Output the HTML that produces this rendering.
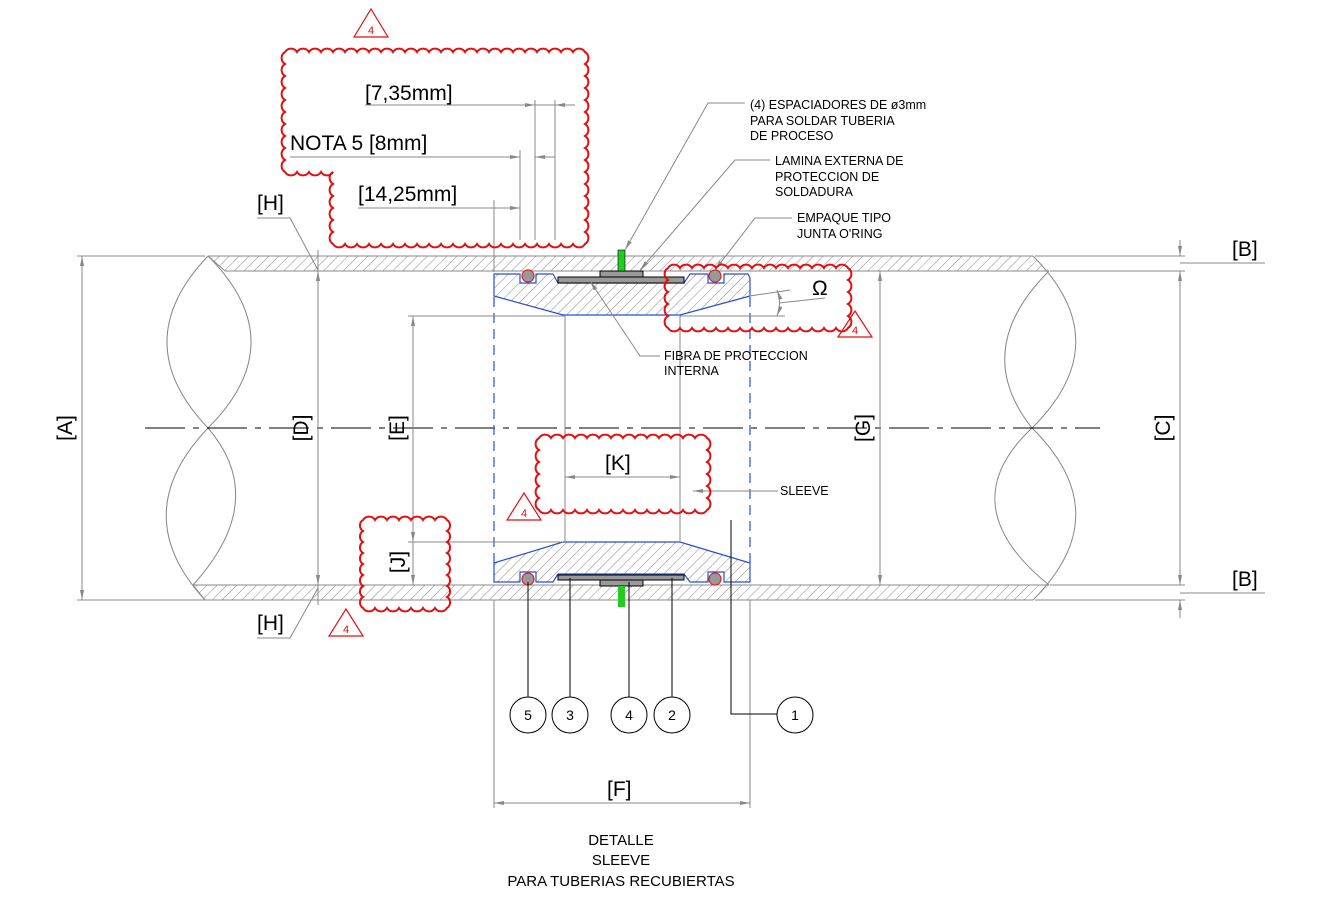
<!DOCTYPE html>
<html><head><meta charset="utf-8"><style>
html,body{margin:0;padding:0;background:#fff}
svg{display:block}
text{font-family:"Liberation Sans",sans-serif;}
</style></head><body>
<svg width="1336" height="923" viewBox="0 0 1336 923" xmlns="http://www.w3.org/2000/svg">
<defs>
<pattern id="h" width="7" height="7" patternUnits="userSpaceOnUse" patternTransform="rotate(45)">
<line x1="0" y1="0" x2="0" y2="7" stroke="#888" stroke-width="1"/>
</pattern>
<marker id="a" viewBox="0 0 10 4" refX="10" refY="2" markerWidth="10" markerHeight="4" orient="auto-start-reverse" markerUnits="userSpaceOnUse"><path d="M0,0L10,2L0,4z" fill="#888"/></marker>
</defs>
<rect width="1336" height="923" fill="#fff"/>

<path d="M208,256 L1033,256 L1049,271 L225,271 Z" fill="url(#h)"/>
<path d="M193,585 L1049,585 L1033,600 L205,600 Z" fill="url(#h)"/>
<g stroke="#888" stroke-width="1" fill="none">
<line x1="208" y1="256" x2="1033" y2="256"/><line x1="225" y1="271" x2="1049" y2="271"/>
<line x1="193" y1="585" x2="1049" y2="585"/><line x1="205" y1="600" x2="1033" y2="600"/>
<path d="M208,256 Q126,342 208,428"/><path d="M208,256 Q294,342 208,428"/>
<path d="M208,428 Q126,514 205,600"/><path d="M208,428 Q270,500 193,585"/>
<line x1="193" y1="585" x2="205" y2="600"/><line x1="208" y1="256" x2="225" y2="271"/>
<path d="M1033,256 Q1119,342 1032,428"/><path d="M1049,271 Q970,350 1032,428"/>
<path d="M1032,428 Q1119,514 1033,600"/><path d="M1032,428 Q950,505 1049,585"/>
</g>
<line x1="145" y1="428" x2="1100" y2="428" stroke="#000" stroke-width="1" stroke-dasharray="40,8,6,8"/>

<path d="M494,274 L520,274 L520,283 L536,283 L536,274 L553,274 L558,283 L684,283 L690,274 L708,274 L708,283 L724,283 L724,274 L748,274 L750,278 L750,296 L680,315 L563,315 L494,296 Z" fill="url(#h)" stroke="#2a4fd0" stroke-width="1.2"/>
<path d="M494,563 L563,542 L680,542 L750,563 L750,582 L724,582 L724,572 L708,572 L708,582 L690,582 L684,574 L558,574 L553,582 L536,582 L536,572 L520,572 L520,582 L494,582 Z" fill="url(#h)" stroke="#2a4fd0" stroke-width="1.2"/>
<rect x="558" y="277" width="126" height="6" fill="#999" stroke="#000"/>
<rect x="600" y="271" width="43" height="6" fill="#999" stroke="#000"/>
<rect x="558" y="575" width="126" height="5" fill="#999" stroke="#000"/>
<rect x="600" y="580" width="43" height="6" fill="#999" stroke="#000"/>
<rect x="618" y="250" width="7" height="21" fill="#2c2" stroke="#000" stroke-width=".6"/>
<rect x="618" y="586" width="7" height="21" fill="#2c2"/>
<g fill="#999" stroke="#d22" stroke-width="1.2">
<circle cx="528" cy="276" r="6"/><circle cx="715" cy="276" r="6"/>
<circle cx="528" cy="579" r="6"/><circle cx="715" cy="579" r="6"/>
</g>

<g stroke="#2a4fd0" stroke-width="1.2" stroke-dasharray="10,6" fill="none">
<line x1="494" y1="297" x2="494" y2="563"/><line x1="750" y1="297" x2="750" y2="563"/>
</g>
<g stroke="#888" stroke-width="1" fill="none">
<line x1="565" y1="316" x2="565" y2="542"/><line x1="680" y1="316" x2="680" y2="542"/>
<line x1="494" y1="600" x2="494" y2="808"/><line x1="750" y1="600" x2="750" y2="808"/>
<line x1="494" y1="803" x2="750" y2="803" marker-start="url(#a)" marker-end="url(#a)"/>
<line x1="565" y1="477" x2="680" y2="477" marker-start="url(#a)" marker-end="url(#a)"/>
<line x1="77" y1="256" x2="205" y2="256"/><line x1="77" y1="600" x2="205" y2="600"/>
<line x1="82" y1="256" x2="82" y2="600" marker-start="url(#a)" marker-end="url(#a)"/>
<line x1="318" y1="250" x2="318" y2="605"/>
<line x1="318" y1="271" x2="318" y2="585" marker-start="url(#a)" marker-end="url(#a)"/>
<line x1="408" y1="316" x2="565" y2="316"/>
<line x1="413" y1="316" x2="413" y2="585" marker-start="url(#a)"/>
<line x1="408" y1="542" x2="563" y2="542"/>
<line x1="413" y1="520" x2="413" y2="542" marker-end="url(#a)"/>
<line x1="413" y1="542" x2="413" y2="585" marker-end="url(#a)"/>
<line x1="880" y1="271" x2="880" y2="585" marker-start="url(#a)" marker-end="url(#a)"/>
<line x1="1035" y1="256" x2="1185" y2="256"/><line x1="1050" y1="271" x2="1185" y2="271"/>
<line x1="1035" y1="600" x2="1185" y2="600"/><line x1="1050" y1="585" x2="1185" y2="585"/>
<line x1="1180" y1="240" x2="1180" y2="256" marker-end="url(#a)"/>
<line x1="1180" y1="271" x2="1180" y2="585" marker-start="url(#a)" marker-end="url(#a)"/>
<line x1="1180" y1="600" x2="1180" y2="618" marker-start="url(#a)"/>
<line x1="1180" y1="263" x2="1265" y2="263"/><line x1="1180" y1="593" x2="1265" y2="593"/>
<polyline points="257,218 290,218 318,270"/>
<polyline points="257,638 290,638 318,588"/>
<line x1="365" y1="105" x2="575" y2="105"/>
<line x1="525" y1="105" x2="535" y2="105" marker-end="url(#a)"/>
<line x1="565" y1="105" x2="555" y2="105" marker-end="url(#a)"/>
<line x1="535" y1="100" x2="535" y2="240"/><line x1="555" y1="100" x2="555" y2="240"/>
<line x1="290" y1="157" x2="520" y2="157" marker-end="url(#a)"/>
<line x1="555" y1="157" x2="535" y2="157" marker-end="url(#a)"/>
<line x1="520" y1="150" x2="520" y2="240"/>
<line x1="358" y1="208" x2="520" y2="208" marker-end="url(#a)"/>
<line x1="494" y1="200" x2="494" y2="272"/>
<polyline points="745,103 708,103 625,250" marker-end="url(#a)"/>
<polyline points="770,160 735,160 640,270" marker-end="url(#a)"/>
<polyline points="792,218 755,218 715,270" marker-end="url(#a)"/>
<polyline points="660,356 640,356 590,281" marker-end="url(#a)"/>
<line x1="778" y1="491" x2="693" y2="491" marker-end="url(#a)"/>
<line x1="750" y1="296" x2="790" y2="290"/>
<line x1="680" y1="316" x2="785" y2="316"/>
<path d="M777,290 Q782,303 777,316" marker-start="url(#a)" marker-end="url(#a)"/>
<line x1="779" y1="303" x2="825" y2="298"/>
</g>
<g stroke="#000" stroke-width="1" fill="none">
<line x1="528" y1="582" x2="528" y2="697"/>
<line x1="570" y1="578" x2="570" y2="697"/>
<line x1="629" y1="582" x2="629" y2="697"/>
<line x1="672" y1="578" x2="672" y2="697"/>
<polyline points="731,520 731,714 777,714"/>
<circle cx="528" cy="715" r="18"/><circle cx="570" cy="715" r="18"/>
<circle cx="629" cy="715" r="18"/><circle cx="672" cy="715" r="18"/>
<circle cx="795" cy="715" r="18"/>
</g>
<g font-size="14" text-anchor="middle" fill="#000">
<text x="528" y="720">5</text><text x="570" y="720">3</text><text x="629" y="720">4</text>
<text x="672" y="720">2</text><text x="795" y="720">1</text>
</g>

<g fill="none" stroke="#e01010" stroke-width="2">
<path d="M285,52 a7,7 0 0 1 12,0 a7,7 0 0 1 12,0 a7,7 0 0 1 12,0 a7,7 0 0 1 12,0 a7,7 0 0 1 12,0 a7,7 0 0 1 12,0 a7,7 0 0 1 12,0 a7,7 0 0 1 12,0 a7,7 0 0 1 12,0 a7,7 0 0 1 12,0 a7,7 0 0 1 12,0 a7,7 0 0 1 12,0 a7,7 0 0 1 12,0 a7,7 0 0 1 12,0 a7,7 0 0 1 12,0 a7,7 0 0 1 12,0 a7,7 0 0 1 12,0 a7,7 0 0 1 12,0 a7,7 0 0 1 12,0 a7,7 0 0 1 12,0 a7,7 0 0 1 12,0 a7,7 0 0 1 12,0 a7,7 0 0 1 12,0 a7,7 0 0 1 12,0 a7,7 0 0 1 12,0
a7,7 0 0 1 0,12 a7,7 0 0 1 0,12 a7,7 0 0 1 0,12 a7,7 0 0 1 0,12 a7,7 0 0 1 0,12 a7,7 0 0 1 0,12 a7,7 0 0 1 0,12 a7,7 0 0 1 0,12 a7,7 0 0 1 0,12 a7,7 0 0 1 0,12 a7,7 0 0 1 0,12 a7,7 0 0 1 0,12 a7,7 0 0 1 0,12 a7,7 0 0 1 0,12 a7,7 0 0 1 0,12 a7,7 0 0 1 0,12
a7,7 0 0 1 -12,0 a7,7 0 0 1 -12,0 a7,7 0 0 1 -12,0 a7,7 0 0 1 -12,0 a7,7 0 0 1 -12,0 a7,7 0 0 1 -12,0 a7,7 0 0 1 -12,0 a7,7 0 0 1 -12,0 a7,7 0 0 1 -12,0 a7,7 0 0 1 -12,0 a7,7 0 0 1 -12,0 a7,7 0 0 1 -12,0 a7,7 0 0 1 -12,0 a7,7 0 0 1 -12,0 a7,7 0 0 1 -12,0 a7,7 0 0 1 -12,0 a7,7 0 0 1 -12,0 a7,7 0 0 1 -12,0 a7,7 0 0 1 -12,0 a7,7 0 0 1 -12,0 a7,7 0 0 1 -12,0
a7,7 0 0 1 0,-12 a7,7 0 0 1 0,-12 a7,7 0 0 1 0,-12 a7,7 0 0 1 0,-12 a7,7 0 0 1 0,-12 a7,7 0 0 1 0,-12
a7,7 0 0 1 -12,0 a7,7 0 0 1 -12,0 a7,7 0 0 1 -12,0 a7,7 0 0 1 -12,0
a7,7 0 0 1 0,-12 a7,7 0 0 1 0,-12 a7,7 0 0 1 0,-12 a7,7 0 0 1 0,-12 a7,7 0 0 1 0,-12 a7,7 0 0 1 0,-12 a7,7 0 0 1 0,-12 a7,7 0 0 1 0,-12 a7,7 0 0 1 0,-12 a7,7 0 0 1 0,-12 Z"/>
<path d="M668,268 a7,7 0 0 1 12,0 a7,7 0 0 1 12,0 a7,7 0 0 1 12,0 a7,7 0 0 1 12,0 a7,7 0 0 1 12,0 a7,7 0 0 1 12,0 a7,7 0 0 1 12,0 a7,7 0 0 1 12,0 a7,7 0 0 1 12,0 a7,7 0 0 1 12,0 a7,7 0 0 1 12,0 a7,7 0 0 1 12,0 a7,7 0 0 1 12,0 a7,7 0 0 1 12,0 a7,7 0 0 1 12,0
a7,7 0 0 1 0,12 a7,7 0 0 1 0,12 a7,7 0 0 1 0,12 a7,7 0 0 1 0,12 a7,7 0 0 1 0,12
a7,7 0 0 1 -12,0 a7,7 0 0 1 -12,0 a7,7 0 0 1 -12,0 a7,7 0 0 1 -12,0 a7,7 0 0 1 -12,0 a7,7 0 0 1 -12,0 a7,7 0 0 1 -12,0 a7,7 0 0 1 -12,0 a7,7 0 0 1 -12,0 a7,7 0 0 1 -12,0 a7,7 0 0 1 -12,0 a7,7 0 0 1 -12,0 a7,7 0 0 1 -12,0 a7,7 0 0 1 -12,0 a7,7 0 0 1 -12,0
a7,7 0 0 1 0,-12 a7,7 0 0 1 0,-12 a7,7 0 0 1 0,-12 a7,7 0 0 1 0,-12 a7,7 0 0 1 0,-12 Z"/>
<path d="M539,438 a7,7 0 0 1 12,0 a7,7 0 0 1 12,0 a7,7 0 0 1 12,0 a7,7 0 0 1 12,0 a7,7 0 0 1 12,0 a7,7 0 0 1 12,0 a7,7 0 0 1 12,0 a7,7 0 0 1 12,0 a7,7 0 0 1 12,0 a7,7 0 0 1 12,0 a7,7 0 0 1 12,0 a7,7 0 0 1 12,0 a7,7 0 0 1 12,0 a7,7 0 0 1 12,0
a7,7 0 0 1 0,12 a7,7 0 0 1 0,12 a7,7 0 0 1 0,12 a7,7 0 0 1 0,12 a7,7 0 0 1 0,12 a7,7 0 0 1 0,12
a7,7 0 0 1 -12,0 a7,7 0 0 1 -12,0 a7,7 0 0 1 -12,0 a7,7 0 0 1 -12,0 a7,7 0 0 1 -12,0 a7,7 0 0 1 -12,0 a7,7 0 0 1 -12,0 a7,7 0 0 1 -12,0 a7,7 0 0 1 -12,0 a7,7 0 0 1 -12,0 a7,7 0 0 1 -12,0 a7,7 0 0 1 -12,0 a7,7 0 0 1 -12,0 a7,7 0 0 1 -12,0
a7,7 0 0 1 0,-12 a7,7 0 0 1 0,-12 a7,7 0 0 1 0,-12 a7,7 0 0 1 0,-12 a7,7 0 0 1 0,-12 a7,7 0 0 1 0,-12 Z"/>
<path d="M363,520 a7,7 0 0 1 12,0 a7,7 0 0 1 12,0 a7,7 0 0 1 12,0 a7,7 0 0 1 12,0 a7,7 0 0 1 12,0 a7,7 0 0 1 12,0 a7,7 0 0 1 12,0
a6.5,6.5 0 0 1 0,11 a6.5,6.5 0 0 1 0,11 a6.5,6.5 0 0 1 0,11 a6.5,6.5 0 0 1 0,11 a6.5,6.5 0 0 1 0,11 a6.5,6.5 0 0 1 0,11 a6.5,6.5 0 0 1 0,11 a6.5,6.5 0 0 1 0,11
a7,7 0 0 1 -12,0 a7,7 0 0 1 -12,0 a7,7 0 0 1 -12,0 a7,7 0 0 1 -12,0 a7,7 0 0 1 -12,0 a7,7 0 0 1 -12,0 a7,7 0 0 1 -12,0
a6.5,6.5 0 0 1 0,-11 a6.5,6.5 0 0 1 0,-11 a6.5,6.5 0 0 1 0,-11 a6.5,6.5 0 0 1 0,-11 a6.5,6.5 0 0 1 0,-11 a6.5,6.5 0 0 1 0,-11 a6.5,6.5 0 0 1 0,-11 a6.5,6.5 0 0 1 0,-11 Z"/>
</g>
<g fill="none" stroke="#e01010" stroke-width="1.2">
<polygon points="354,37 388,37 371,9"/>
<polygon points="838,337 872,337 855,311"/>
<polygon points="507,520 541,520 524,493"/>
<polygon points="329,636 363,636 346,609"/>
</g>
<g fill="#e01010" font-size="11" text-anchor="middle">
<text x="371" y="34">4</text><text x="855" y="334">4</text><text x="524" y="517">4</text><text x="346" y="633">4</text>
</g>

<g font-size="21" fill="#000">
<text x="365" y="100">[7,35mm]</text>
<text x="290" y="150">NOTA 5 [8mm]</text>
<text x="358" y="201">[14,25mm]</text>
<text x="257" y="210">[H]</text>
<text x="257" y="630">[H]</text>
<text x="1232" y="256">[B]</text>
<text x="1232" y="586">[B]</text>
<text x="605" y="470">[K]</text>
<text x="607" y="796">[F]</text>
<text x="812" y="295">Ω</text>
<g text-anchor="middle">
<text transform="translate(72,428) rotate(-90)">[A]</text>
<text transform="translate(308,428) rotate(-90)">[D]</text>
<text transform="translate(404,428) rotate(-90)">[E]</text>
<text transform="translate(870,428) rotate(-90)">[G]</text>
<text transform="translate(1170,428) rotate(-90)">[C]</text>
<text transform="translate(405,562) rotate(-90)">[J]</text>
</g>
</g>
<g font-size="12.5" fill="#000">
<text x="750" y="109">(4) ESPACIADORES DE ø3mm</text>
<text x="750" y="125">PARA SOLDAR TUBERIA</text>
<text x="750" y="140">DE PROCESO</text>
<text x="775" y="165">LAMINA EXTERNA DE</text>
<text x="775" y="181">PROTECCION DE</text>
<text x="775" y="196">SOLDADURA</text>
<text x="797" y="222">EMPAQUE TIPO</text>
<text x="797" y="238">JUNTA O'RING</text>
<text x="664" y="360">FIBRA DE PROTECCION</text>
<text x="664" y="375">INTERNA</text>
<text x="780" y="495">SLEEVE</text>
</g>
<g font-size="15" fill="#000" text-anchor="middle">
<text x="621" y="845">DETALLE</text>
<text x="621" y="865">SLEEVE</text>
<text x="621" y="886">PARA TUBERIAS RECUBIERTAS</text>
</g>
</svg>
</body></html>
